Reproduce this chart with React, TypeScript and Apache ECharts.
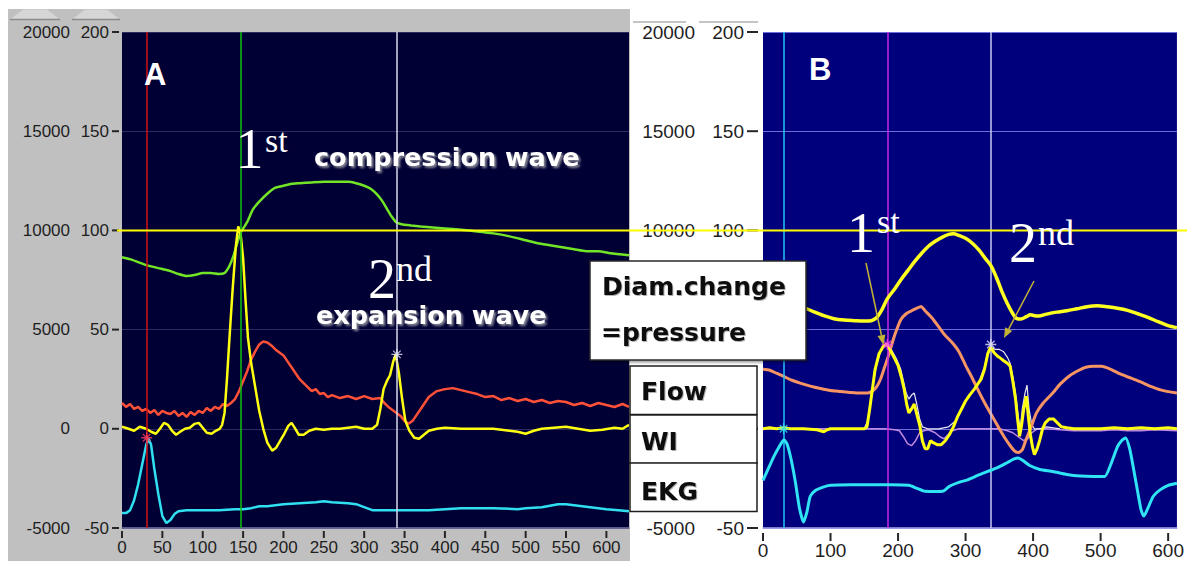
import React, { useEffect, useRef } from "react";
import * as echarts from "echarts";

type Pt = [number, number];

// ---------- axes ----------
const xTicksA = [0, 50, 100, 150, 200, 250, 300, 350, 400, 450, 500, 550, 600];
const xTicksB = [0, 100, 200, 300, 400, 500, 600];
const yTicks = [-50, 0, 50, 100, 150, 200];
const xMaxA = 628;
const xMaxB = 613;
const yInner = { min: -50, max: 200, step: 50 };
const yOuter = { min: -5000, max: 20000, step: 5000 };
// panel B left labels that sit under the legend boxes (not visible in the figure)
const hiddenInnerB = [0, 50];
const hiddenOuterB = [0, 5000];
const refLevel = 100;

// cursor positions (x values)
const cursorsA = [30.5, 146.8, 340.5];
const cursorsB = [30.5, 184.6, 337.4];

// ---------- panel A ----------
const pressureA: Pt[] = [
  [0, 86.5], [10, 85.5], [20, 84], [30, 82.5], [40, 81.5], [50, 80.5], [60, 79.5], [70, 78], [80, 77],
  [90, 77.5], [100, 78.5], [110, 78.5], [120, 78], [127, 78.5], [133, 82], [138, 87], [143, 94], [147, 99],
  [151, 101.5], [156, 105], [162, 110.5], [170, 114.5], [180, 118.5], [190, 121.5], [200, 122.5], [210, 123.5],
  [220, 123.8], [235, 124.2], [250, 124.5], [265, 124.5], [280, 124.5], [290, 123.8], [300, 122.5], [308, 121],
  [315, 118.5], [322, 115], [328, 111], [334, 107], [340, 104], [348, 103], [358, 102.5], [370, 102], [385, 101.5],
  [400, 101], [420, 100.3], [440, 99.5], [460, 98.5], [480, 97], [500, 95], [515, 93.5], [530, 92.5], [545, 91.5],
  [560, 90.5], [575, 89.5], [590, 89.5], [605, 88.5], [617, 88], [628, 87.5],
];
const flowA: Pt[] = [
  [0, 13], [5, 11], [10, 12.5], [15, 10], [20, 11], [25, 9], [30, 10], [35, 8], [40, 9.5], [45, 7], [50, 9],
  [55, 8], [60, 7.5], [65, 9], [70, 6.5], [75, 8], [80, 6], [85, 8.5], [90, 7], [95, 9], [100, 8], [105, 10.5],
  [110, 9], [115, 11], [120, 10], [125, 12.5], [130, 11.5], [135, 13], [140, 15], [145, 19], [150, 24], [155, 29],
  [160, 35], [165, 39], [170, 42.5], [175, 44], [180, 43.5], [185, 42], [190, 40], [195, 38.5], [200, 37],
  [205, 34], [210, 31], [215, 28], [220, 25], [225, 23], [230, 21], [235, 19], [240, 20], [245, 17.5], [250, 18],
  [255, 16], [260, 17], [270, 15.5], [280, 16.5], [290, 15], [300, 16.5], [310, 15], [320, 15.5], [325, 13],
  [330, 11], [335, 9.5], [340, 8], [345, 6.5], [350, 4], [355, 2.5], [360, 4], [365, 7], [370, 10], [375, 13],
  [380, 16], [385, 17.5], [390, 19], [395, 19.5], [400, 20], [410, 20.5], [420, 19.5], [430, 18.5], [440, 17.5],
  [450, 16], [460, 16.5], [470, 14.5], [480, 15.5], [490, 14], [500, 15], [510, 13.5], [520, 14.5], [530, 13],
  [540, 14], [550, 13.5], [560, 12], [570, 13], [580, 11.5], [590, 13], [600, 12], [610, 11], [620, 12.5], [628, 11],
];
const wiA: Pt[] = [
  [0, 1], [8, 0], [15, -1], [22, 1], [30, 0], [36, -1.5], [42, -2.5], [47, 0], [52, 3], [57, 2], [62, -1],
  [67, -3], [72, -1.5], [78, 0], [84, 0.5], [90, 2.5], [95, 3], [100, 0.5], [105, -2], [111, -2.5], [116, -1],
  [121, 0], [124, 2], [127, 8], [130, 25], [133, 45], [137, 70], [141, 92], [144, 102], [147, 98], [150, 86],
  [153, 65], [156, 46], [160, 33], [165, 21], [170, 9], [175, 0], [180, -7], [186, -11], [191, -9.5], [196, -6],
  [201, -2.5], [206, 1.5], [210, 3], [214, 0.5], [219, -3], [225, -3], [232, -1], [240, 0], [250, -0.5],
  [260, 0], [270, 0], [280, 0.5], [290, 1], [300, 0], [310, 0], [316, 2], [320, 10], [324, 20], [328, 24],
  [332, 27], [336, 34], [339, 37.5], [343, 28], [347, 15], [351, 4], [356, -1], [362, -4.5], [368, -5],
  [374, -3], [380, -1], [390, 0], [400, 0.5], [420, 0], [440, 0], [460, 0], [480, -1], [490, -1.5], [500, -2.5],
  [510, -1], [520, 0], [535, 0.5], [550, 1], [565, 0], [580, -1], [595, -0.5], [610, 0.5], [620, 0], [628, 2],
];
const ekgA: Pt[] = [
  [0, -42.5], [5, -42.5], [10, -41], [15, -36], [20, -28], [25, -18], [30, -8], [33, -5], [36, -8], [40, -20],
  [45, -33], [50, -44], [55, -47.5], [60, -46], [65, -43], [70, -41.5], [80, -41], [100, -41], [120, -41],
  [140, -40.5], [150, -40.5], [160, -40], [170, -39], [180, -39], [190, -38.5], [200, -38], [220, -37.5],
  [240, -37], [250, -36.5], [260, -37], [280, -37.5], [290, -38], [300, -39.5], [310, -41], [330, -41],
  [350, -41], [380, -41], [400, -40.5], [420, -40], [460, -40], [490, -40.5], [500, -40], [520, -39.5],
  [540, -38], [550, -38], [560, -38.5], [580, -39.5], [600, -40.5], [615, -41], [628, -41.5],
];

// ---------- panel B ----------
const pressureB: Pt[] = [
  [0, 62], [20, 62], [40, 62], [55, 61.5], [65, 60.5], [75, 59], [90, 57], [105, 55.5], [120, 54.8], [135, 54.5],
  [150, 54.3], [160, 54.5], [168, 56], [176, 60], [184, 65.5], [195, 70.5], [205, 75.5], [215, 80], [225, 84.5],
  [235, 88.5], [245, 92], [255, 94.5], [265, 96.5], [275, 98], [282, 98.3], [290, 97.5], [300, 96], [310, 93.5],
  [320, 90], [330, 85.5], [338, 82], [346, 76], [354, 69], [362, 63], [370, 58], [376, 55.5], [382, 55.3],
  [390, 56.5], [396, 57.5], [402, 57], [408, 56.8], [420, 57.8], [435, 58.8], [450, 59.5], [465, 60.5],
  [480, 61.5], [495, 62], [510, 61.5], [525, 60.8], [540, 59.7], [555, 58], [570, 56.2], [585, 54], [600, 52],
  [613, 51],
];
const flowB: Pt[] = [
  [0, 30], [10, 29.5], [20, 28], [30, 26.5], [42, 24.6], [55, 23], [70, 21.5], [85, 20.3], [100, 19.3],
  [115, 18.8], [130, 18.3], [145, 18], [155, 18], [162, 19], [168, 21], [174, 25], [180, 31], [186, 37],
  [192, 44], [198, 50], [204, 55], [212, 58], [220, 59.5], [228, 60.8], [234, 61.7], [240, 59.5], [250, 56],
  [260, 51.5], [270, 47], [280, 43.5], [290, 39], [300, 32], [310, 25.5], [320, 18.5], [330, 12], [340, 6],
  [350, 0], [358, -4.5], [365, -8], [372, -11], [378, -12], [384, -10.5], [390, -5], [396, 0], [405, 8],
  [415, 13], [429, 18], [440, 22.5], [455, 27], [468, 29.5], [478, 31], [490, 31.5], [501, 31.5], [515, 30],
  [530, 27.5], [545, 25.5], [560, 23.5], [573, 21.5], [590, 19.5], [613, 18],
];
const wiB: Pt[] = [
  [0, 0], [10, 0.5], [20, 0], [30, 0.5], [40, 0], [60, 0], [80, -0.5], [90, -1.5], [95, -0.5], [100, 0],
  [120, 0], [140, 0], [150, 0], [154, 1], [158, 10], [162, 20], [166, 30], [172, 38], [178, 41.5], [183, 42.8],
  [188, 40], [194, 36], [200, 32], [205, 26], [209, 20], [213, 12], [216, 8], [220, 10], [224, 12.5], [228, 7],
  [232, 2], [236, -6], [240, -10], [244, -10], [248, -6], [252, -7], [258, -8], [264, -8], [270, -6], [276, -3],
  [282, 1], [288, 6], [294, 10], [300, 14], [306, 17], [313, 20], [318, 22.5], [323, 25], [328, 30], [333, 38],
  [337, 41], [342, 38.5], [347, 36.7], [352, 35.5], [357, 34.2], [362, 33], [366, 31.6], [370, 24], [374, 15],
  [377, 5], [380, -3.8], [383, 2], [386, 9.7], [390, 16.4], [393, 6], [396, -3], [399, -9], [402, -13],
  [406, -10], [410, -5.5], [414, 0], [418, 3], [424, 5], [430, 5], [436, 3], [442, 1], [450, 0.5], [460, 0],
  [480, 0], [500, 0], [520, 0.5], [540, 0], [560, 0.5], [580, 0], [600, 0.5], [613, 0],
];
const wiTraceB: Pt[] = [
  [150, 0], [156, 5], [162, 20], [168, 32], [175, 40], [183, 43], [190, 40], [198, 35], [204, 30], [208, 24],
  [212, 18], [216, 15], [220, 17], [224, 18], [228, 12], [232, 5], [236, 1], [244, 0], [260, 0], [275, 1],
  [285, 4], [292, 8], [298, 13], [306, 17], [313, 20], [320, 24], [328, 31], [334, 39], [338, 41], [344, 40],
  [350, 40], [356, 39], [362, 36], [366, 33], [370, 26], [374, 18], [378, 6], [381, 0], [384, 10], [388, 18],
  [391, 22], [394, 10], [398, 2], [402, 0], [410, 0], [420, 1], [440, 0],
];
const wiBackB: Pt[] = [
  [0, 0], [40, 0], [80, 0], [120, 0], [160, 0], [180, 0], [195, -0.5], [202, -1], [208, -4], [214, -7.5],
  [220, -8.5], [226, -6], [232, -2], [238, -1], [245, -0.5], [255, -2], [262, -4], [268, -5], [274, -3],
  [280, -1], [290, 0], [310, 0], [330, 0], [350, 0], [362, -1], [370, -2], [378, -4], [386, -6], [392, -5],
  [398, -2], [406, 0], [420, 0], [440, -0.5], [460, -1], [480, -1], [500, -1], [520, -0.5], [540, -1],
  [560, -1], [580, -0.5], [613, -1],
];
const ekgB: Pt[] = [
  [0, -26], [8, -20], [16, -14], [24, -9], [31, -5.5], [36, -8], [42, -16], [48, -27], [54, -40], [60, -47],
  [65, -42], [70, -34], [78, -31], [88, -29.5], [100, -28.5], [130, -28.2], [160, -28.2], [190, -28.2],
  [216, -28.5], [228, -30], [240, -31.5], [255, -31.6], [266, -31.5], [276, -29], [290, -27], [303, -25.7],
  [318, -23.5], [333, -21.5], [348, -19.5], [362, -17], [372, -15.2], [378, -14.7], [385, -16], [395, -18.5],
  [410, -20.5], [429, -21.5], [450, -23], [470, -23.8], [490, -24], [506, -24], [515, -18], [525, -9],
  [531, -6], [537, -4.6], [543, -10], [549, -20.6], [555, -32], [560, -41], [564, -44], [570, -40], [578, -34],
  [588, -30.8], [600, -28.5], [613, -27.4],
];

const starsA: Pt[] = [[30.5, -4.5], [340.5, 37.5]];
const starsB: Pt[] = [[30.5, 0], [184, 42.5], [337.4, 42.5]];

const SANS = "'Liberation Sans', Arial, sans-serif";
const BOLD = "'DejaVu Sans', Verdana, sans-serif";
const SERIF = "'Liberation Serif', 'Times New Roman', serif";
const ASTER = "path://M0 5L10 5M5 0L5 10M1.6 1.6L8.4 8.4M8.4 1.6L1.6 8.4";

function line(data: Pt[], xi: number, yi: number, color: string, width: number, z: number, smooth: number | boolean = false) {
  return {
    type: "line", data, xAxisIndex: xi, yAxisIndex: yi, showSymbol: false, symbol: "none",
    smooth, lineStyle: { color, width }, z, silent: true, clip: true,
  };
}
function stars(data: Pt[], xi: number, yi: number, colors: string[]) {
  return {
    type: "scatter", xAxisIndex: xi, yAxisIndex: yi, symbol: ASTER, symbolSize: 11, z: 20, silent: true,
    data: data.map((p, i) => ({ value: p, itemStyle: { color: "rgba(0,0,0,0)", borderColor: colors[i], borderWidth: 1.3 } })),
  };
}
function cursors(xs: number[], colors: string[], xi: number, yi: number) {
  return {
    type: "line", data: [], xAxisIndex: xi, yAxisIndex: yi, z: 1, silent: true,
    markLine: {
      silent: true, symbol: "none", label: { show: false }, animation: false,
      data: xs.map((x, i) => ({ xAxis: x, lineStyle: { color: colors[i], width: 1.5, type: "solid" } })),
    },
  };
}

const plain = (hidden: number[]) => (v: number) => (hidden.indexOf(v) >= 0 ? "" : String(v));

function xAxisOf(grid: number, max: number, ticks: number[], font: number, margin: number, lineColor: string) {
  return {
    gridIndex: grid, type: "value", min: 0, max,
    axisLine: { show: true, onZero: false, lineStyle: { color: lineColor, width: 1.5 } },
    axisTick: { show: false },
    axisLabel: { customValues: ticks, margin, fontSize: font, fontFamily: SANS, color: "#1e1e1e", formatter: plain([]) },
    splitLine: { show: false },
  };
}
function yInnerOf(grid: number, font: number, margin: number, gridColor: string, hidden: number[]) {
  return {
    gridIndex: grid, type: "value", position: "left", min: yInner.min, max: yInner.max, interval: yInner.step,
    axisLine: { show: false }, axisTick: { show: false },
    axisLabel: { margin, fontSize: font, fontFamily: SANS, color: "#1e1e1e", formatter: plain(hidden) },
    splitLine: { show: true, lineStyle: { color: gridColor, width: 1 } },
  };
}
function yOuterOf(grid: number, font: number, offset: number, hidden: number[]) {
  return {
    gridIndex: grid, type: "value", position: "left", offset, min: yOuter.min, max: yOuter.max, interval: yOuter.step,
    axisLine: { show: false }, axisTick: { show: false },
    axisLabel: { margin: 8, fontSize: font, fontFamily: SANS, color: "#1e1e1e", formatter: plain(hidden) },
    splitLine: { show: false },
  };
}

const shadow = { textShadowColor: "rgba(150,150,160,0.9)", textShadowBlur: 2, textShadowOffsetX: 2, textShadowOffsetY: 2 };
const boxShadow = { textShadowColor: "rgba(0,0,0,0.3)", textShadowBlur: 1, textShadowOffsetX: 1, textShadowOffsetY: 1 };

function txt(text: string, x: number, y: number, size: number, family: string, fill: string, weight = "normal", extra: any = {}) {
  return {
    type: "text", x, y, z: 60,
    style: { text, fill, fontSize: size, fontFamily: family, fontWeight: weight, align: "left", verticalAlign: "middle", textAlign: "left", textVerticalAlign: "middle", ...extra },
  };
}
function arrow(x1: number, y1: number, x2: number, y2: number, color: string) {
  const dx = x2 - x1, dy = y2 - y1;
  const L = Math.hypot(dx, dy);
  const ux = dx / L, uy = dy / L;
  const bx = x2 - ux * 10, by = y2 - uy * 10;
  const px = -uy * 4, py = ux * 4;
  return [
    { type: "line", z: 55, shape: { x1, y1, x2: bx, y2: by }, style: { stroke: color, lineWidth: 1.5 } },
    { type: "polygon", z: 55, shape: { points: [[x2, y2], [bx + px, by + py], [bx - px, by - py]] }, style: { fill: color } },
  ];
}

type Conv = (xi: number, yi: number, v: Pt) => number[];

function tickMarks(conv: Conv) {
  const g: any[] = [];
  const hTick = (x: number, y: number, len: number) =>
    g.push({ type: "rect", z: 40, shape: { x, y: y - 1, width: len, height: 2 }, style: { fill: "#262626" } });
  const vTick = (x: number, y: number, len: number) =>
    g.push({ type: "rect", z: 40, shape: { x: x - 1, y, width: 2, height: len }, style: { fill: "#262626" } });
  // panel A
  yTicks.forEach((v) => { const p = conv(0, 0, [0, v]); hTick(p[0] - 10, p[1], 7); });
  xTicksA.forEach((v) => { const p = conv(0, 0, [v, yInner.min]); vTick(p[0], p[1] + 3, 7); });
  // panel B
  yTicks.forEach((v) => { const p = conv(1, 2, [0, v]); hTick(p[0] - 16, p[1], 11); });
  xTicksB.forEach((v) => { const p = conv(1, 2, [v, yInner.min]); vTick(p[0], p[1] + 5, 8); });
  return g;
}

function buildGraphics(conv: Conv) {
  const g: any[] = [];
  const ref = conv(0, 0, [0, refLevel]);
  // frame decorations
  g.push({ type: "polygon", z: 1, shape: { points: [[10, 19.5], [23, 9.5], [47, 9.5], [60, 19.5]] }, style: { fill: "#d6d6d6" } });
  g.push({ type: "polygon", z: 1, shape: { points: [[72, 19.5], [85, 9.5], [107, 9.5], [120, 19.5]] }, style: { fill: "#d6d6d6" } });
  g.push({ type: "line", z: 1, shape: { x1: 10, y1: 19.5, x2: 60, y2: 19.5 }, style: { stroke: "#8a8a8a", lineWidth: 1.5 } });
  g.push({ type: "line", z: 1, shape: { x1: 72, y1: 19.5, x2: 120, y2: 19.5 }, style: { stroke: "#8a8a8a", lineWidth: 1.5 } });
  g.push({ type: "line", z: 1, shape: { x1: 633, y1: 22, x2: 686, y2: 22 }, style: { stroke: "#c4c4c4", lineWidth: 2 } });
  g.push({ type: "line", z: 1, shape: { x1: 699, y1: 22, x2: 758, y2: 22 }, style: { stroke: "#c4c4c4", lineWidth: 2 } });
  g.push(...tickMarks(conv));
  // reference level line across both panels
  g.push({ type: "line", z: 50, shape: { x1: ref[0] - 5, y1: ref[1], x2: 1187, y2: ref[1] }, style: { stroke: "#ffff00", lineWidth: 2 } });
  // panel letters
  g.push(txt("A", 144, 74, 31, SANS, "#ffffff", "bold"));
  g.push(txt("B", 809, 69.5, 31, SANS, "#ffffff", "bold"));
  // A annotations
  g.push(txt("1", 235.5, 149, 56, SERIF, "#ffffff", "normal", { lineHeight: 40 }));
  g.push(txt("st", 265, 140, 34, SERIF, "#ffffff", "normal", { lineHeight: 24 }));
  g.push(txt("compression wave", 314, 157.4, 25.5, BOLD, "#ffffff", "bold", shadow));
  g.push(txt("2", 368, 278.5, 56, SERIF, "#ffffff", "normal", { lineHeight: 40 }));
  g.push(txt("nd", 396, 268.5, 36, SERIF, "#ffffff", "normal", { lineHeight: 24 }));
  g.push(txt("expansion wave", 316, 315, 25.5, BOLD, "#ffffff", "bold", shadow));
  // B annotations
  g.push(txt("1", 847, 232.8, 56, SERIF, "#ffffff", "normal", { lineHeight: 40 }));
  g.push(txt("st", 877, 221.5, 34, SERIF, "#ffffff", "normal", { lineHeight: 24 }));
  g.push(txt("2", 1009, 242.8, 56, SERIF, "#ffffff", "normal", { lineHeight: 40 }));
  g.push(txt("nd", 1038, 232.9, 36, SERIF, "#ffffff", "normal", { lineHeight: 24 }));
  g.push(...arrow(866, 263, 883.5, 345, "#c4b434"));
  g.push(...arrow(1034, 281, 1004, 338, "#c4b434"));
  // legend boxes
  g.push({ type: "rect", z: 70, shape: { x: 590, y: 261, width: 216, height: 99 }, style: { fill: "#ffffff", stroke: "#2a2a2a", lineWidth: 1.5, shadowColor: "rgba(0,0,0,0.35)", shadowBlur: 2, shadowOffsetX: 2, shadowOffsetY: 2 } });
  const boxes: [string, number, number][] = [["Flow", 366, 391.4], ["WI", 415, 441.4], ["EKG", 463, 491.4]];
  boxes.forEach(([t, top, ty]) => {
    g.push({ type: "rect", z: 70, shape: { x: 630, y: top, width: 127, height: 48.5 }, style: { fill: "#ffffff", stroke: "#1e1e1e", lineWidth: 1.5 } });
    g.push({ ...txt(t, 641, ty, 25, BOLD, "#111111", "bold", boxShadow), z: 71 });
  });
  g.push({ ...txt("Diam.change", 602, 286.4, 25, BOLD, "#111111", "bold", boxShadow), z: 71 });
  g.push({ ...txt("=pressure", 601, 332.4, 25, BOLD, "#111111", "bold", boxShadow), z: 71 });
  return g;
}

export default function App() {
  const ref = useRef<HTMLDivElement>(null);
  useEffect(() => {
    const el = ref.current;
    if (!el) return;
    const chart = echarts.init(el, null, { renderer: "svg" });
    const option: any = {
      animation: false,
      backgroundColor: "transparent",
      grid: [
        { left: 122, top: 32, width: 507, height: 496, show: true, backgroundColor: "#000035", borderWidth: 0 },
        { left: 763, top: 32, width: 424, height: 496, show: true, backgroundColor: "#00007c", borderWidth: 0 },
      ],
      xAxis: [
        xAxisOf(0, xMaxA, xTicksA, 17, 11, "#7878a8"),
        xAxisOf(1, xMaxB, xTicksB, 19, 13, "#a8a8e8"),
      ],
      yAxis: [
        yInnerOf(0, 17, 13, "#2c2c62", []),
        yOuterOf(0, 17, 44, []),
        yInnerOf(1, 19, 19, "#6e6ed8", hiddenInnerB),
        yOuterOf(1, 19, 60, hiddenOuterB),
      ],
      series: [
        cursors(cursorsA, ["#d41010", "#12c012", "#d8d8ea"], 0, 0),
        line(pressureA, 0, 0, "#72e626", 2.5, 3, 0.2),
        line(flowA, 0, 0, "#ff5038", 2.5, 3),
        line(ekgA, 0, 0, "#30e0f0", 2.5, 3),
        line(wiA, 0, 0, "#ffff10", 2.5, 4),
        stars(starsA, 0, 0, ["#ff4060", "#e8e8ff"]),

        cursors(cursorsB, ["#22c4f4", "#c428e4", "#c8c8f0"], 1, 2),
        line(wiBackB, 1, 2, "#c088e0", 1.5, 3),
        line(wiTraceB, 1, 2, "#e8e8f0", 1.2, 3),
        line(flowB, 1, 2, "#f79464", 3, 4, 0.2),
        line(pressureB, 1, 2, "#ffff20", 3.5, 5, 0.3),
        line(wiB, 1, 2, "#ffff10", 3, 5),
        line(ekgB, 1, 2, "#30e4f4", 3, 5, 0.2),
        stars(starsB, 1, 2, ["#30e4f4", "#ff40ff", "#e8e8ff"]),
      ],
    };
    chart.setOption(option);
    const conv: Conv = (xi, yi, v) =>
      chart.convertToPixel({ xAxisIndex: xi, yAxisIndex: yi } as any, v) as number[];
    chart.setOption({ graphic: buildGraphics(conv) });
    return () => chart.dispose();
  }, []);
  return (
    <div style={{ position: "fixed", left: 0, top: 0, width: 1187, height: 563, background: "#ffffff", overflow: "hidden" }}>
      <div style={{ position: "absolute", left: 7.5, top: 8.5, width: 622.5, height: 552.5, background: "#c0c0c0" }} />
      <div ref={ref} style={{ position: "absolute", left: 0, top: 0, width: 1187, height: 563 }} />
    </div>
  );
}
